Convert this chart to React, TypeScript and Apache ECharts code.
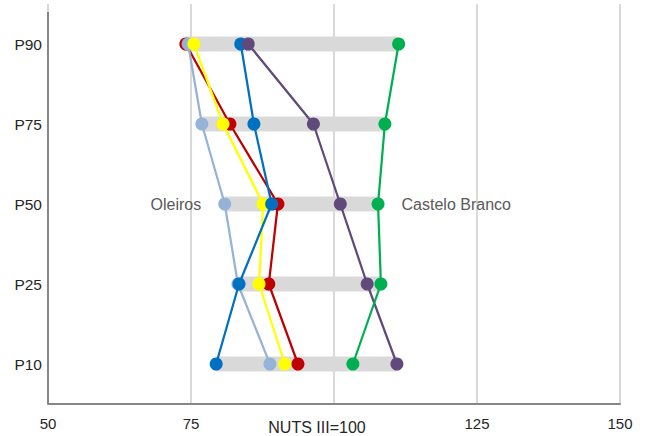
import React, { useEffect, useRef } from "react";
import * as echarts from "echarts";

const categories = ["P10", "P25", "P50", "P75", "P90"];
const xTicks = [50, 75, 100, 125, 150];
const axisTitle = "NUTS III=100";

const seriesNames = ["Série A", "Oleiros", "Série C", "Série D", "Série E", "Castelo Branco"];
const seriesColors = ["#C00000", "#95B3D7", "#FFFF00", "#0070C0", "#604A7B", "#00B050"];

// values ordered P10, P25, P50, P75, P90
const redValues = [93.7, 88.6, 90.2, 81.8, 74.1];
const lightBlueValues = [88.8, 83.2, 80.9, 76.9, 74.5];
const yellowValues = [91.4, 86.9, 87.6, 80.6, 75.5];
const blueValues = [79.4, 83.4, 89.1, 86.0, 83.7];
const purpleValues = [111.0, 105.8, 101.1, 96.4, 85.0];
const greenValues = [103.3, 108.2, 107.7, 108.9, 111.3];

const allValues = [redValues, lightBlueValues, yellowValues, blueValues, purpleValues, greenValues];

export default function App() {
  const ref = useRef<HTMLDivElement>(null);

  useEffect(() => {
    document.body.style.margin = "0";
    if (!ref.current) return;
    const chart = echarts.init(ref.current, null, { renderer: "svg" });

    const mins = categories.map((_, i) => Math.min(...allValues.map((s) => s[i])));
    const maxs = categories.map((_, i) => Math.max(...allValues.map((s) => s[i])));
    const minIdx = mins.map((m, i) => allValues.findIndex((s) => s[i] === m));
    const maxIdx = maxs.map((m, i) => allValues.findIndex((s) => s[i] === m));
    const midRow = categories.indexOf("P50");

    const font = "'Liberation Sans', Arial, sans-serif";

    const lineSeries = allValues.map((vals, si) => ({
      type: "line",
      name: seriesNames[si],
      data: vals.map((v, ci) => {
        const item: any = { value: [v, ci] };
        if (ci === midRow && si === minIdx[midRow]) {
          item.label = {
            show: true,
            position: "left",
            distance: 17,
            formatter: seriesNames[si],
            color: "#595959",
            fontSize: 16,
            fontFamily: font,
          };
        }
        if (ci === midRow && si === maxIdx[midRow]) {
          item.label = {
            show: true,
            position: "right",
            distance: 17,
            formatter: seriesNames[si],
            color: "#595959",
            fontSize: 16,
            fontFamily: font,
          };
        }
        return item;
      }),
      symbol: "circle",
      symbolSize: 13,
      lineStyle: { color: seriesColors[si], width: 2.25 },
      itemStyle: { color: seriesColors[si] },
      z: 3 + si,
    }));

    chart.setOption({
      animation: false,
      grid: { left: 48, right: 25, top: 4, bottom: 32, containLabel: false },
      xAxis: {
        type: "value",
        min: xTicks[0],
        max: xTicks[xTicks.length - 1],
        interval: 25,
        axisLine: { show: true, onZero: false, lineStyle: { color: "#868686", width: 2 } },
        axisTick: { show: false },
        splitLine: { show: true, lineStyle: { color: "#D9D9D9", width: 2 } },
        axisLabel: {
          margin: 12,
          fontSize: 15,
          color: "#262626",
          fontFamily: font,
          formatter: (v: number) => (v === 100 ? "" : String(v)),
        },
      },
      yAxis: {
        type: "category",
        data: categories,
        axisLine: { show: false },
        axisTick: { show: false },
        splitLine: { show: false },
        axisLabel: { margin: 6, fontSize: 15.5, color: "#262626", fontFamily: font },
      },
      graphic: [
        {
          type: "line",
          shape: { x1: 48, y1: 12, x2: 48, y2: 404 },
          style: { stroke: "#868686", lineWidth: 2 },
          z: 10,
        },
        {
          type: "text",
          x: 317,
          y: 427,
          style: {
            text: axisTitle,
            fontSize: 16,
            fontFamily: font,
            fill: "#262626",
            textAlign: "center",
            textVerticalAlign: "middle",
          },
        },
      ],
      series: [
        {
          type: "bar",
          stack: "range",
          data: mins,
          barWidth: 15,
          itemStyle: { color: "transparent" },
          silent: true,
          z: 1,
        },
        {
          type: "bar",
          stack: "range",
          data: maxs.map((m, i) => m - mins[i]),
          barWidth: 15,
          itemStyle: { color: "#D9D9D9" },
          silent: true,
          z: 1,
        },
        ...lineSeries,
      ],
    });

    return () => chart.dispose();
  }, []);

  return <div ref={ref} style={{ width: 645, height: 436 }} />;
}
